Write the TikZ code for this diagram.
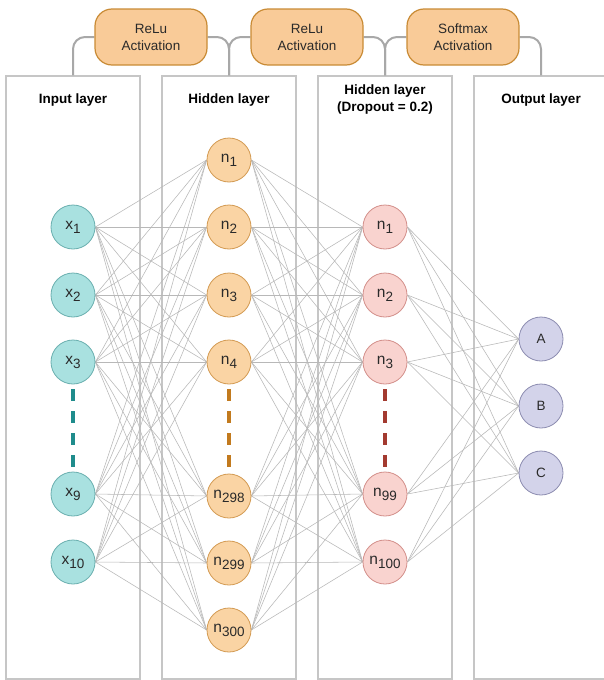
\documentclass[tikz,border=0pt]{standalone}
\usepackage{fontspec}
\setmainfont{Liberation Sans}
\usetikzlibrary{calc}
\pgfdeclarelayer{bg}
\pgfdeclarelayer{edges}
\pgfsetlayers{bg,edges,main}
\definecolor{inFill}{HTML}{A9E1E0}
\definecolor{inDraw}{HTML}{6AAFAF}
\definecolor{hFill}{HTML}{FAD4A4}
\definecolor{hDraw}{HTML}{D39A52}
\definecolor{dFill}{HTML}{F9D3CF}
\definecolor{dDraw}{HTML}{D38F8A}
\definecolor{oFill}{HTML}{D3D3EA}
\definecolor{oDraw}{HTML}{8C8CB0}
\definecolor{actFill}{HTML}{F9CB98}
\definecolor{actDraw}{HTML}{C98B35}
\definecolor{tealDash}{HTML}{1F8C8C}
\definecolor{orangeDash}{HTML}{C27A1E}
\definecolor{redDash}{HTML}{A33A30}
\definecolor{edgeCol}{HTML}{B8B8B8}
\definecolor{panelCol}{HTML}{C6C6C6}
\definecolor{connCol}{HTML}{A8A8A8}
\definecolor{txtCol}{HTML}{2A2A2A}
\newcommand{\lbl}[2]{#1\raisebox{-4pt}{\fontsize{13.5}{13.5}\selectfont #2}}
\begin{document}
\begin{tikzpicture}[x=1pt,y=-1pt,
  panel/.style={draw=panelCol, line width=1.2pt, fill=white, minimum width=134pt, minimum height=603pt, inner sep=0pt},
  title/.style={font=\fontsize{13.5}{17}\selectfont\bfseries, align=center, text=black},
  act/.style={draw=actDraw, fill=actFill, line width=1.2pt, rounded corners=17pt, minimum width=112pt, minimum height=56pt, align=center, font=\fontsize{13.5}{17}\selectfont, text=txtCol, inner sep=0pt},
  conn/.style={draw=connCol, line width=2pt, rounded corners=12pt},
  neuron/.style={circle, minimum size=44pt, inner sep=0pt, line width=0.8pt, font=\fontsize{15.5}{15.5}\selectfont, text=txtCol},
  inN/.style={neuron, draw=inDraw, fill=inFill},
  hN/.style={neuron, draw=hDraw, fill=hFill},
  dN/.style={neuron, draw=dDraw, fill=dFill},
  oN/.style={neuron, draw=oDraw, fill=oFill, font=\fontsize{13.5}{13.5}\selectfont},
  edge/.style={draw=edgeCol, line width=0.55pt},
  dashline/.style={line width=3.6pt, dash pattern=on 12pt off 10pt, shorten <=5pt, shorten >=5pt}
]
\useasboundingbox (0,0) rectangle (604,680);
% panels
\begin{pgfonlayer}{bg}
\node[panel] (p1) at (73,377.5) {};
\node[panel] (p2) at (229,377.5) {};
\node[panel] (p3) at (385,377.5) {};
\node[panel] (p4) at (541,377.5) {};
\end{pgfonlayer}
% titles
\node[title] (t1) at (73,100) {Input layer};
\node[title] (t2) at (229,100) {Hidden layer};
\node[title] (t3) at (385,100) {Hidden layer\\(Dropout = 0.2)};
\node[title] (t4) at (541,100) {Output layer};
% activation boxes
\node[act] (a1) at (151,37) {ReLu\\Activation};
\node[act] (a2) at (307,37) {ReLu\\Activation};
\node[act] (a3) at (463,37) {Softmax\\Activation};
\begin{pgfonlayer}{bg}
\draw[conn] (a1.west) -| (p1.north);
\draw[conn] (a1.east) -| (p2.north);
\draw[conn] (a2.west) -| (p2.north);
\draw[conn] (a2.east) -| (p3.north);
\draw[conn] (a3.west) -| (p3.north);
\draw[conn] (a3.east) -| (p4.north);
\end{pgfonlayer}
% input
\node[inN] (i1) at (73,227) {\lbl{x}{1}};
\node[inN] (i2) at (73,295) {\lbl{x}{2}};
\node[inN] (i3) at (73,362) {\lbl{x}{3}};
\node[inN] (i4) at (73,494) {\lbl{x}{9}};
\node[inN] (i5) at (73,562) {\lbl{x}{10}};
% hidden
\node[hN] (h1) at (229,160) {\lbl{n}{1}};
\node[hN] (h2) at (229,227) {\lbl{n}{2}};
\node[hN] (h3) at (229,295) {\lbl{n}{3}};
\node[hN] (h4) at (229,362) {\lbl{n}{4}};
\node[hN] (h5) at (229,496) {\lbl{n}{298}};
\node[hN] (h6) at (229,563) {\lbl{n}{299}};
\node[hN] (h7) at (229,630) {\lbl{n}{300}};
% dropout
\node[dN] (d1) at (385,227) {\lbl{n}{1}};
\node[dN] (d2) at (385,295) {\lbl{n}{2}};
\node[dN] (d3) at (385,362) {\lbl{n}{3}};
\node[dN] (d4) at (385,494) {\lbl{n}{99}};
\node[dN] (d5) at (385,562) {\lbl{n}{100}};
% output
\node[oN] (o1) at (541,339) {A};
\node[oN] (o2) at (541,406) {B};
\node[oN] (o3) at (541,473) {C};
% edges
\begin{pgfonlayer}{edges}
\foreach \a in {i1,i2,i3,i4,i5}
  \foreach \b in {h1,h2,h3,h4,h5,h6,h7}
    \draw[edge] (\a.east) -- (\b.west);
\foreach \a in {h1,h2,h3,h4,h5,h6,h7}
  \foreach \b in {d1,d2,d3,d4,d5}
    \draw[edge] (\a.east) -- (\b.west);
\foreach \a in {d1,d2,d3,d4,d5}
  \foreach \b in {o1,o2,o3}
    \draw[edge] (\a.east) -- (\b.west);
\end{pgfonlayer}
% dashed ellipses
\draw[dashline, draw=tealDash] (i3.south) -- (i4.north);
\draw[dashline, draw=orangeDash] (h4.south) -- (h5.north);
\draw[dashline, draw=redDash] (d3.south) -- (d4.north);
\end{tikzpicture}
\end{document}
